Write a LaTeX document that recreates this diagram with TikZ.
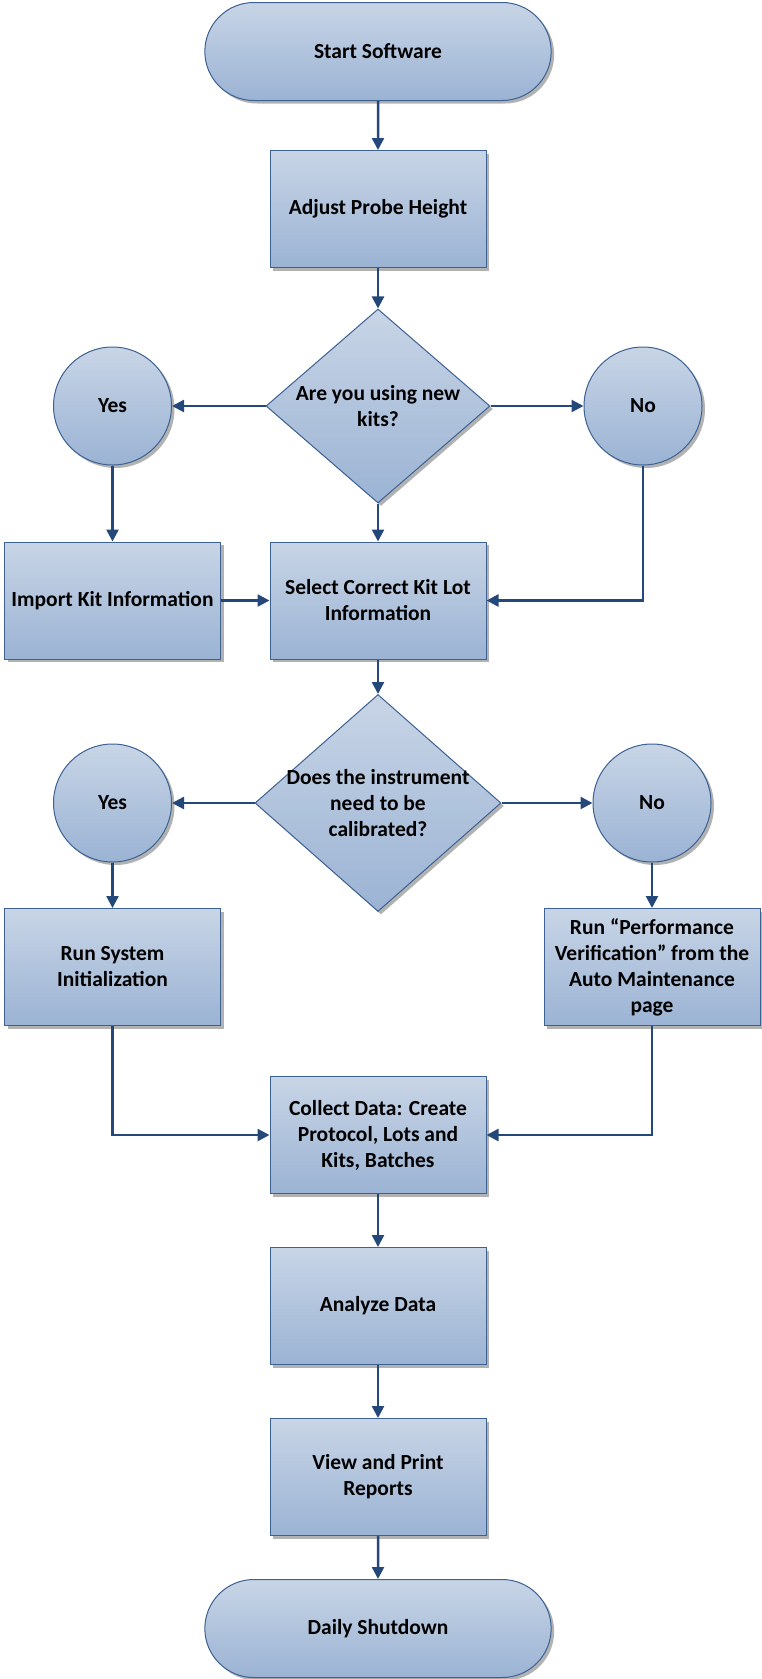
\documentclass[tikz,border=0pt]{standalone}
\usepackage{fontspec}
\setmainfont{Carlito}
\usetikzlibrary{positioning, shapes.geometric, shapes.misc, arrows.meta, shadows}

\definecolor{boxtop}{RGB}{200,213,230}
\definecolor{boxbot}{RGB}{155,179,212}
\definecolor{boxline}{RGB}{60,97,146}
\definecolor{flowline}{RGB}{37,72,122}

\begin{document}
\begin{tikzpicture}[
    x=1pt, y=1pt,
    base/.style={draw=boxline, line width=1pt, top color=boxtop, bottom color=boxbot,
        drop shadow={shadow xshift=3pt, shadow yshift=-3pt, opacity=0.3, fill=black},
        font=\bfseries\fontsize{21.5}{26}\selectfont, align=center, text=black},
    process/.style={base, rectangle, minimum width=216pt, minimum height=117pt, inner sep=4pt},
    terminal/.style={base, rounded rectangle, minimum width=353pt, minimum height=98pt},
    decision/.style={base, diamond, inner sep=0pt},
    answer/.style={base, circle, minimum size=118pt, inner sep=0pt},
    qtext/.style={font=\bfseries\fontsize{21.5}{26}\selectfont, align=center},
    flow/.style={draw=flowline, line width=2.5pt, -{Triangle[length=12pt, width=12pt]}}
]
    \useasboundingbox (0,0) rectangle (761,-1679);

    % Start and first step
    \node[terminal] (start) at (378,-51.5) {Start Software};
    \node[process] (adjust) at (378,-209) {Adjust Probe Height};

    % First question: new kits?
    \node[decision, minimum width=224pt, minimum height=194pt] (q1) at (378,-406) {};
    \node[qtext] (q1t) at (q1) {Are you using new\\kits?};
    \node[answer] (yes1) at (112.5,-406) {Yes};
    \node[answer] (no1) at (643,-406) {No};

    % Kit information
    \node[process] (import) at (112.5,-600.5) {Import Kit Information};
    \node[process] (select) at (378,-600.5) {Select Correct Kit Lot\\Information};

    % Second question: calibration?
    \node[decision, minimum width=246pt, minimum height=217pt] (q2) at (378,-803) {};
    \node[qtext] (q2t) at (q2) {Does the instrument\\need to be\\calibrated?};
    \node[answer] (yes2) at (112.5,-803) {Yes};
    \node[answer] (no2) at (652,-803) {No};

    % Calibration branches
    \node[process] (runsys) at (112.5,-967) {Run System\\Initialization};
    \node[process] (perf) at (652,-967) {Run “Performance\\Verification” from the\\Auto Maintenance\\page};

    % Main column to the end
    \node[process] (collect) at (378,-1135) {Collect Data: Create\\Protocol, Lots and\\Kits, Batches};
    \node[process, below=53pt of collect] (analyze) {Analyze Data};
    \node[process, below=53pt of analyze] (view) {View and Print\\Reports};
    \node[terminal, below=43pt of view] (stop) {Daily Shutdown};

    % Connectors
    \draw[flow] (start) -- (adjust);
    \draw[flow] (adjust) -- (q1);
    \draw[flow] (q1.west) -- (yes1);
    \draw[flow] (q1.east) -- (no1);
    \draw[flow] (yes1) -- (import);
    \draw[flow] (q1.south) -- (select);
    \draw[flow] (no1.south) |- (select.east);
    \draw[flow] (import) -- (select);
    \draw[flow] (select) -- (q2.north);
    \draw[flow] (q2.west) -- (yes2);
    \draw[flow] (q2.east) -- (no2);
    \draw[flow] (yes2) -- (runsys);
    \draw[flow] (no2) -- (perf);
    \draw[flow] (runsys.south) |- (collect.west);
    \draw[flow] (perf.south) |- (collect.east);
    \draw[flow] (collect) -- (analyze);
    \draw[flow] (analyze) -- (view);
    \draw[flow] (view) -- (stop);

\end{tikzpicture}
\end{document}
